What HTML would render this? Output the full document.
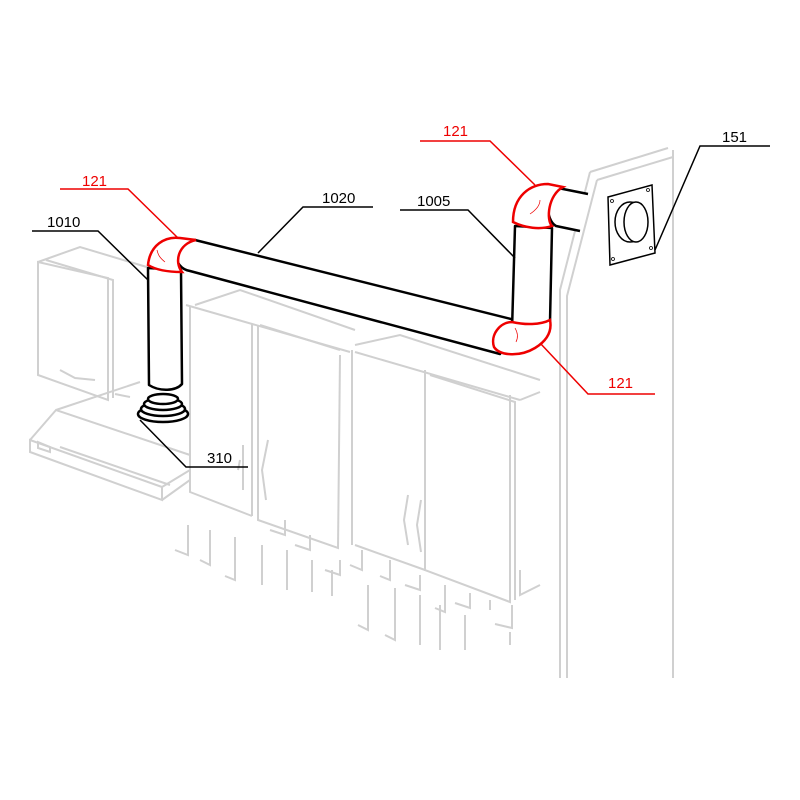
<!DOCTYPE html>
<html><head><style>html,body{margin:0;padding:0;background:#fff}svg{display:block}</style></head><body>
<svg width="800" height="800" viewBox="0 0 800 800" xmlns="http://www.w3.org/2000/svg" font-family="Liberation Sans, sans-serif">
<g stroke="#d0d0d0" stroke-width="2" fill="none">
<path d="M38,262 L38,375 L108,400 L108,278 Z"/>
<path d="M38,262 L80,247 L150,268"/>
<path d="M46,260 L113,280 L113,398"/>
<path d="M60,370 L75,378 L95,380"/>
<path d="M115,394 L130,397"/>
<path d="M56,410 L140,382"/><path d="M30,440 L162,487 L162,500 L30,452 Z"/>
<path d="M30,440 L56,410 L190,455"/><path d="M162,487 L190,470 L190,480 L162,500"/>
<path d="M38,442 L50,447 L50,452 L38,448Z"/><path d="M60,447 L170,485"/>
<path d="M190,306 L190,492 L252,516"/><path d="M195,305 L240,290 L355,330"/><path d="M186,305 L350,352"/>
<path d="M252,324 L252,516"/><path d="M258,326 L258,520 L338,548 L340,355"/><path d="M260,325 L340,350"/>
<path d="M352,350 L352,545"/><path d="M355,345 L400,335 L540,380"/><path d="M355,352 L520,400"/>
<path d="M425,370 L425,570 L510,602 L510,395"/><path d="M430,375 L515,402 L515,600"/>
<path d="M355,545 L425,570"/><path d="M520,400 L540,392"/><path d="M520,570 L520,595 L540,585"/>
<path d="M243,445 L243,490"/><path d="M268,440 L262,470 L266,500"/><path d="M240,460 L238,470"/>
<path d="M408,495 L404,520 L408,545"/><path d="M421,500 L417,525 L421,552"/>
<path d="M188,525 L188,555 L175,550"/><path d="M210,530 L210,565 L200,560"/><path d="M235,537 L235,580 L225,576"/>
<path d="M262,545 L262,585"/><path d="M285,520 L285,535 L270,530"/><path d="M310,535 L310,550 L295,545"/><path d="M340,560 L340,575 L325,570"/>
<path d="M287,550 L287,590"/><path d="M312,560 L312,592"/><path d="M332,570 L332,596"/>
<path d="M362,550 L362,570 L350,565"/><path d="M390,560 L390,580 L380,576"/><path d="M420,575 L420,590 L405,585"/>
<path d="M368,585 L368,630 L358,625"/><path d="M395,588 L395,640 L385,635"/><path d="M420,595 L420,645"/><path d="M445,585 L445,612 L435,608"/>
<path d="M470,593 L470,608 L455,603"/><path d="M440,605 L440,650"/><path d="M465,615 L465,650"/><path d="M490,600 L490,610"/>
<path d="M512,605 L512,628 L495,624"/><path d="M510,632 L510,645"/>
<path d="M590,172 L668,148"/><path d="M597,180 L673,157"/><path d="M673,150 L673,678"/>
<path d="M590,172 L560,290 L560,678"/><path d="M597,180 L567,296 L567,678"/>
</g>
<g stroke="#000" stroke-width="1.5" fill="#fff">
<path d="M608,197 L652,185 L655,253 L610,265 Z"/>
<ellipse cx="630" cy="222" rx="15" ry="20"/>
<ellipse cx="636" cy="222" rx="12" ry="20"/>
</g>
<g fill="none" stroke="#000" stroke-width="0.8">
<circle cx="612" cy="201" r="1.5"/><circle cx="648" cy="190" r="1.5"/><circle cx="613" cy="259" r="1.5"/><circle cx="651" cy="248" r="1.5"/>
</g>
<g stroke="#000" stroke-width="2.5" fill="#fff" stroke-linejoin="round">
<path d="M195,240 L515,320 L500,354 L190,271 C172,268 170,242 195,240 Z"/>
<path d="M148,268 L149,385 C160,392 176,391 182,384 L181,270 Z"/>
<path d="M515,226 L512,330 L550,322 L552,228 Z"/>
<path d="M588,194 L558,188 C545,192 545,220 556,226 L580,231" />
<ellipse cx="163" cy="414" rx="25" ry="8"/><ellipse cx="163" cy="409" rx="22" ry="7"/>
<ellipse cx="163" cy="404" rx="19" ry="6"/><ellipse cx="163" cy="399" rx="15" ry="5"/>
</g>
<g stroke="#e00" stroke-width="2.5" fill="#fff">
<path d="M148,265 C150,245 165,236 180,238 L196,240 C178,244 174,262 182,272 C168,272 156,270 148,265 Z"/>
<path d="M513,222 C513,196 530,184 548,184 L563,187 C548,195 546,220 552,226 C540,230 525,228 513,222 Z"/>
<path d="M512,322 C500,322 490,335 494,347 C500,356 520,357 535,348 C548,340 552,330 550,320 C540,325 525,325 512,322 Z"/>
</g>
<g stroke="#e00" stroke-width="0.7" fill="none"><path d="M165,262 C160,258 158,255 157,250"/><path d="M530,214 C536,210 540,205 540,200"/><path d="M515,328 C518,333 518,338 516,342"/></g>
<g fill="none" stroke-width="1.5">
<path stroke="#e00" d="M60,189 L128,189 L178,238"/>
<path stroke="#000" d="M32,231 L98,231 L148,280"/>
<path stroke="#000" d="M373,207 L303,207 L258,253"/>
<path stroke="#e00" d="M420,141 L490,141 L535,185"/>
<path stroke="#000" d="M400,210 L468,210 L515,258"/>
<path stroke="#000" d="M770,146 L700,146 L655,250"/>
<path stroke="#e00" d="M655,394 L588,394 L540,343"/>
<path stroke="#000" d="M248,467 L186,467 L140,420"/>
</g>
<g font-size="15">
<text x="82" y="186" fill="#e00">121</text>
<text x="47" y="227" fill="#000">1010</text>
<text x="322" y="203" fill="#000">1020</text>
<text x="443" y="136" fill="#e00">121</text>
<text x="417" y="206" fill="#000">1005</text>
<text x="722" y="142" fill="#000">151</text>
<text x="608" y="388" fill="#e00">121</text>
<text x="207" y="463" fill="#000">310</text>
</g>
</svg>
</body></html>
